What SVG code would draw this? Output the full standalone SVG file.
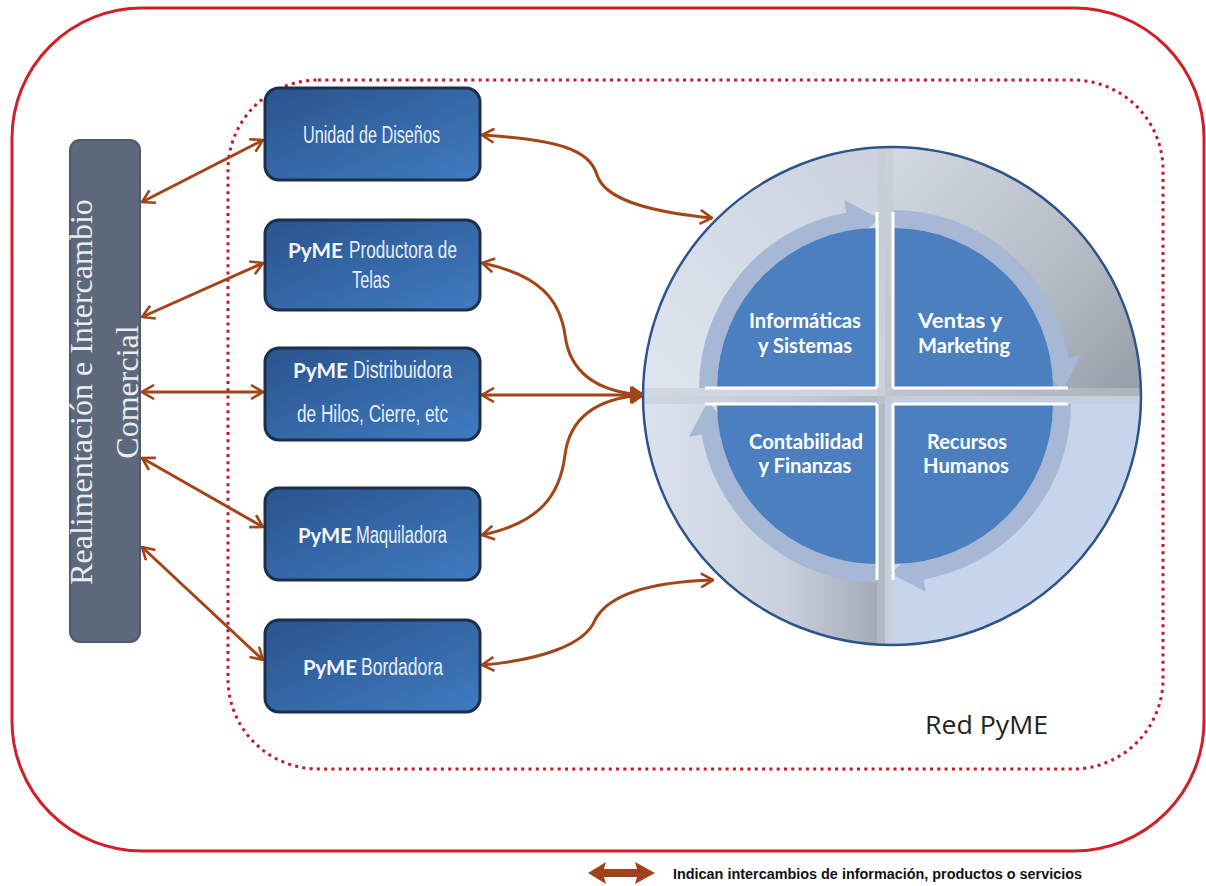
<svg xmlns="http://www.w3.org/2000/svg" width="1206" height="886" viewBox="0 0 1206 886">
<style>
.boxTxt{font-family:"Liberation Sans Narrow","Liberation Sans",sans-serif;font-size:23px;fill:#e8eef6}
.pyme{font-family:Lato,"Open Sans",sans-serif;font-weight:700;font-size:21px;fill:#f4f7fb}
.qTxt{font-family:Lato,"Open Sans",sans-serif;font-weight:700;font-size:20px;fill:#ffffff;text-anchor:middle}
.box{fill:url(#boxGrad);stroke:#1c2f4b;stroke-width:3}
.conn{fill:none;stroke:#a2461a;stroke-width:3;marker-start:url(#ah);marker-end:url(#ah)}
.ring{fill:none;stroke:#a6b8d5;stroke-width:18}
.ringHead{fill:#a6b8d5}
.wl{stroke:#ffffff;stroke-width:3}
</style>
<defs>
<linearGradient id="boxGrad" x1="0" y1="0" x2="1" y2="1">
<stop offset="0" stop-color="#2a538d"/>
<stop offset="1" stop-color="#3f7bc0"/>
</linearGradient>
<linearGradient id="gTL" x1="0" y1="1" x2="1" y2="0">
<stop offset="0" stop-color="#dfe6f0"/>
<stop offset="1" stop-color="#c9d1dd"/>
</linearGradient>
<linearGradient id="gTR" x1="0" y1="0" x2="1" y2="1">
<stop offset="0" stop-color="#d4dae3"/>
<stop offset="0.6" stop-color="#b4bbc5"/>
<stop offset="1" stop-color="#959ca7"/>
</linearGradient>
<linearGradient id="gBL" x1="0" y1="0" x2="1" y2="0">
<stop offset="0" stop-color="#dbe3ef"/>
<stop offset="0.6" stop-color="#c8d0dc"/>
<stop offset="1" stop-color="#a0a8b4"/>
</linearGradient>
<linearGradient id="gBR" x1="0" y1="0" x2="1" y2="1">
<stop offset="0" stop-color="#c2d1ea"/>
<stop offset="1" stop-color="#cbd8ee"/>
</linearGradient>
<clipPath id="circClip"><circle cx="892" cy="396" r="249"/></clipPath>
<marker id="ah" viewBox="0 0 14 16" refX="13" refY="8" markerWidth="14" markerHeight="16" markerUnits="userSpaceOnUse" orient="auto-start-reverse">
<path d="M1,1 L13,8 L1,15" fill="none" stroke="#a2461a" stroke-width="2.6" stroke-linejoin="miter"/>
</marker>
</defs>

<g id="frame-outer">
<rect x="12" y="8" width="1192" height="843" rx="130" fill="#ffffff" stroke="#d0202a" stroke-width="3"/>
</g>
<g id="red-pyme">
<rect x="228" y="80" width="935" height="689" rx="90" fill="none" stroke="#c0182c" stroke-width="3" stroke-dasharray="3 4.3"/>
<text x="925" y="734" font-family="'Open Sans',Lato,sans-serif" font-size="26" fill="#222222" textLength="123" lengthAdjust="spacingAndGlyphs">Red PyME</text>
</g>

<g id="connectors">
<line class="conn" x1="142" y1="202" x2="263" y2="140"/>
<line class="conn" x1="142" y1="317" x2="263" y2="263"/>
<line class="conn" x1="142" y1="392" x2="263" y2="392"/>
<line class="conn" x1="142" y1="458" x2="263" y2="527"/>
<line class="conn" x1="142" y1="547" x2="263" y2="660"/>
<path class="conn" d="M482,135 C560,140 590,150 597,175 C605,200 650,212 712,218"/>
<path class="conn" d="M482,263 C540,275 560,300 565,335 C570,375 600,392 643,395"/>
<path class="conn" d="M482,395 L643,395"/>
<path class="conn" d="M482,535 C540,523 560,495 565,455 C570,415 600,398 643,395"/>
<path class="conn" d="M482,665 C540,660 585,645 595,620 C608,595 650,582 713,580"/>
<polygon points="630,386 645,395 630,404" fill="#a2461a"/>
</g>

<g id="bar">
<rect x="70" y="140" width="70" height="502" rx="10" fill="#5d697b" stroke="#4b5b72" stroke-width="2"/>
<text transform="translate(92,392) rotate(-90)" text-anchor="middle" font-family="'Liberation Serif',serif" font-size="32" fill="#e9edf2">Realimentación e Intercambio</text>
<text transform="translate(138,392) rotate(-90)" text-anchor="middle" font-family="'Liberation Serif',serif" font-size="32" fill="#e9edf2">Comercial</text>
</g>

<g id="box-disenos">
<rect class="box" x="265" y="88" width="215" height="92" rx="14"/>
<text class="boxTxt" x="303" y="143" textLength="137" lengthAdjust="spacingAndGlyphs">Unidad de Diseños</text>
</g>
<g id="box-telas">
<rect class="box" x="265" y="220" width="215" height="90" rx="14"/>
<text class="pyme" x="288" y="258" textLength="55" lengthAdjust="spacingAndGlyphs">PyME</text>
<text class="boxTxt" x="349" y="258" textLength="108" lengthAdjust="spacingAndGlyphs">Productora de</text>
<text class="boxTxt" x="352" y="288" textLength="38" lengthAdjust="spacingAndGlyphs">Telas</text>
</g>
<g id="box-distribuidora">
<rect class="box" x="265" y="348" width="215" height="92" rx="14"/>
<text class="pyme" x="293" y="378" textLength="55" lengthAdjust="spacingAndGlyphs">PyME</text>
<text class="boxTxt" x="353" y="378" textLength="99" lengthAdjust="spacingAndGlyphs">Distribuidora</text>
<text class="boxTxt" x="297" y="422" textLength="151" lengthAdjust="spacingAndGlyphs">de Hilos, Cierre, etc</text>
</g>
<g id="box-maquiladora">
<rect class="box" x="265" y="488" width="215" height="92" rx="14"/>
<text class="pyme" x="298" y="543" textLength="54" lengthAdjust="spacingAndGlyphs">PyME</text>
<text class="boxTxt" x="356" y="543" textLength="91" lengthAdjust="spacingAndGlyphs">Maquiladora</text>
</g>
<g id="box-bordadora">
<rect class="box" x="265" y="620" width="215" height="92" rx="14"/>
<text class="pyme" x="303" y="675" textLength="54" lengthAdjust="spacingAndGlyphs">PyME</text>
<text class="boxTxt" x="361" y="675" textLength="82" lengthAdjust="spacingAndGlyphs">Bordadora</text>
</g>

<g id="circle">
<g clip-path="url(#circClip)">
<rect x="640" y="144" width="245" height="252" fill="url(#gTL)"/>
<rect x="885" y="144" width="260" height="252" fill="url(#gTR)"/>
<rect x="640" y="396" width="245" height="256" fill="url(#gBL)"/>
<rect x="885" y="396" width="260" height="256" fill="url(#gBR)"/>
<rect x="877" y="144" width="16" height="508" fill="#c3cad4" opacity="0.5"/>
<rect x="640" y="388" width="505" height="16" fill="#c3cad4" opacity="0.5"/>
</g>
<circle cx="892" cy="396" r="249" fill="none" stroke="#2f5489" stroke-width="2.5"/>
<g id="rings">
<g transform="translate(877,388)">
<path class="ring" d="M-169,0 A169,169 0 0 1 -23.5,-167.4"/>
<polygon class="ringHead" points="-25.9,-146.7 -32.8,-188 3,-169"/>
</g>
<g transform="translate(893,388) rotate(90)">
<path class="ring" d="M-169,0 A169,169 0 0 1 -23.5,-167.4"/>
<polygon class="ringHead" points="-25.9,-146.7 -32.8,-188 3,-169"/>
</g>
<g transform="translate(893,404) rotate(180)">
<path class="ring" d="M-169,0 A169,169 0 0 1 -23.5,-167.4"/>
<polygon class="ringHead" points="-25.9,-146.7 -32.8,-188 3,-169"/>
</g>
<g transform="translate(877,404) rotate(270)">
<path class="ring" d="M-169,0 A169,169 0 0 1 -23.5,-167.4"/>
<polygon class="ringHead" points="-25.9,-146.7 -32.8,-188 3,-169"/>
</g>
</g>
<g id="q-informaticas">
<path d="M877,388 L717,388 A160,160 0 0 1 877,228 Z" fill="#4b7fbf"/>
<text class="qTxt" x="805" y="328" textLength="112" lengthAdjust="spacingAndGlyphs">Informáticas</text>
<text class="qTxt" x="805" y="353" textLength="94" lengthAdjust="spacingAndGlyphs">y Sistemas</text>
</g>
<g id="q-ventas">
<path d="M893,388 L893,228 A160,160 0 0 1 1053,388 Z" fill="#4b7fbf"/>
<text class="qTxt" x="960" y="328" textLength="84" lengthAdjust="spacingAndGlyphs">Ventas y</text>
<text class="qTxt" x="964" y="353" textLength="92" lengthAdjust="spacingAndGlyphs">Marketing</text>
</g>
<g id="q-recursos">
<path d="M893,404 L1053,404 A160,160 0 0 1 893,564 Z" fill="#4b7fbf"/>
<text class="qTxt" x="967" y="449" textLength="80" lengthAdjust="spacingAndGlyphs">Recursos</text>
<text class="qTxt" x="966" y="473" textLength="86" lengthAdjust="spacingAndGlyphs">Humanos</text>
</g>
<g id="q-contabilidad">
<path d="M877,404 L877,564 A160,160 0 0 1 717,404 Z" fill="#4b7fbf"/>
<text class="qTxt" x="806" y="449" textLength="114" lengthAdjust="spacingAndGlyphs">Contabilidad</text>
<text class="qTxt" x="805" y="473" textLength="93" lengthAdjust="spacingAndGlyphs">y Finanzas</text>
</g>
<g id="white-cross">
<line class="wl" x1="877" y1="212" x2="877" y2="388"/>
<line class="wl" x1="705" y1="388" x2="877" y2="388"/>
<line class="wl" x1="893" y1="212" x2="893" y2="388"/>
<line class="wl" x1="893" y1="388" x2="1068" y2="388"/>
<line class="wl" x1="705" y1="404" x2="877" y2="404"/>
<line class="wl" x1="877" y1="404" x2="877" y2="580"/>
<line class="wl" x1="893" y1="404" x2="1068" y2="404"/>
<line class="wl" x1="893" y1="404" x2="893" y2="580"/>
</g>
</g>

<g id="legend">
<polygon points="588,873 606,862 604,869 637,869 635,862 655,873 635,884 637,877 604,877 606,884" fill="#a0421a"/>
<text x="673" y="879" font-family="'Liberation Sans',sans-serif" font-weight="700" font-size="14" fill="#111111" textLength="409" lengthAdjust="spacingAndGlyphs">Indican intercambios de información, productos o servicios</text>
</g>
</svg>
